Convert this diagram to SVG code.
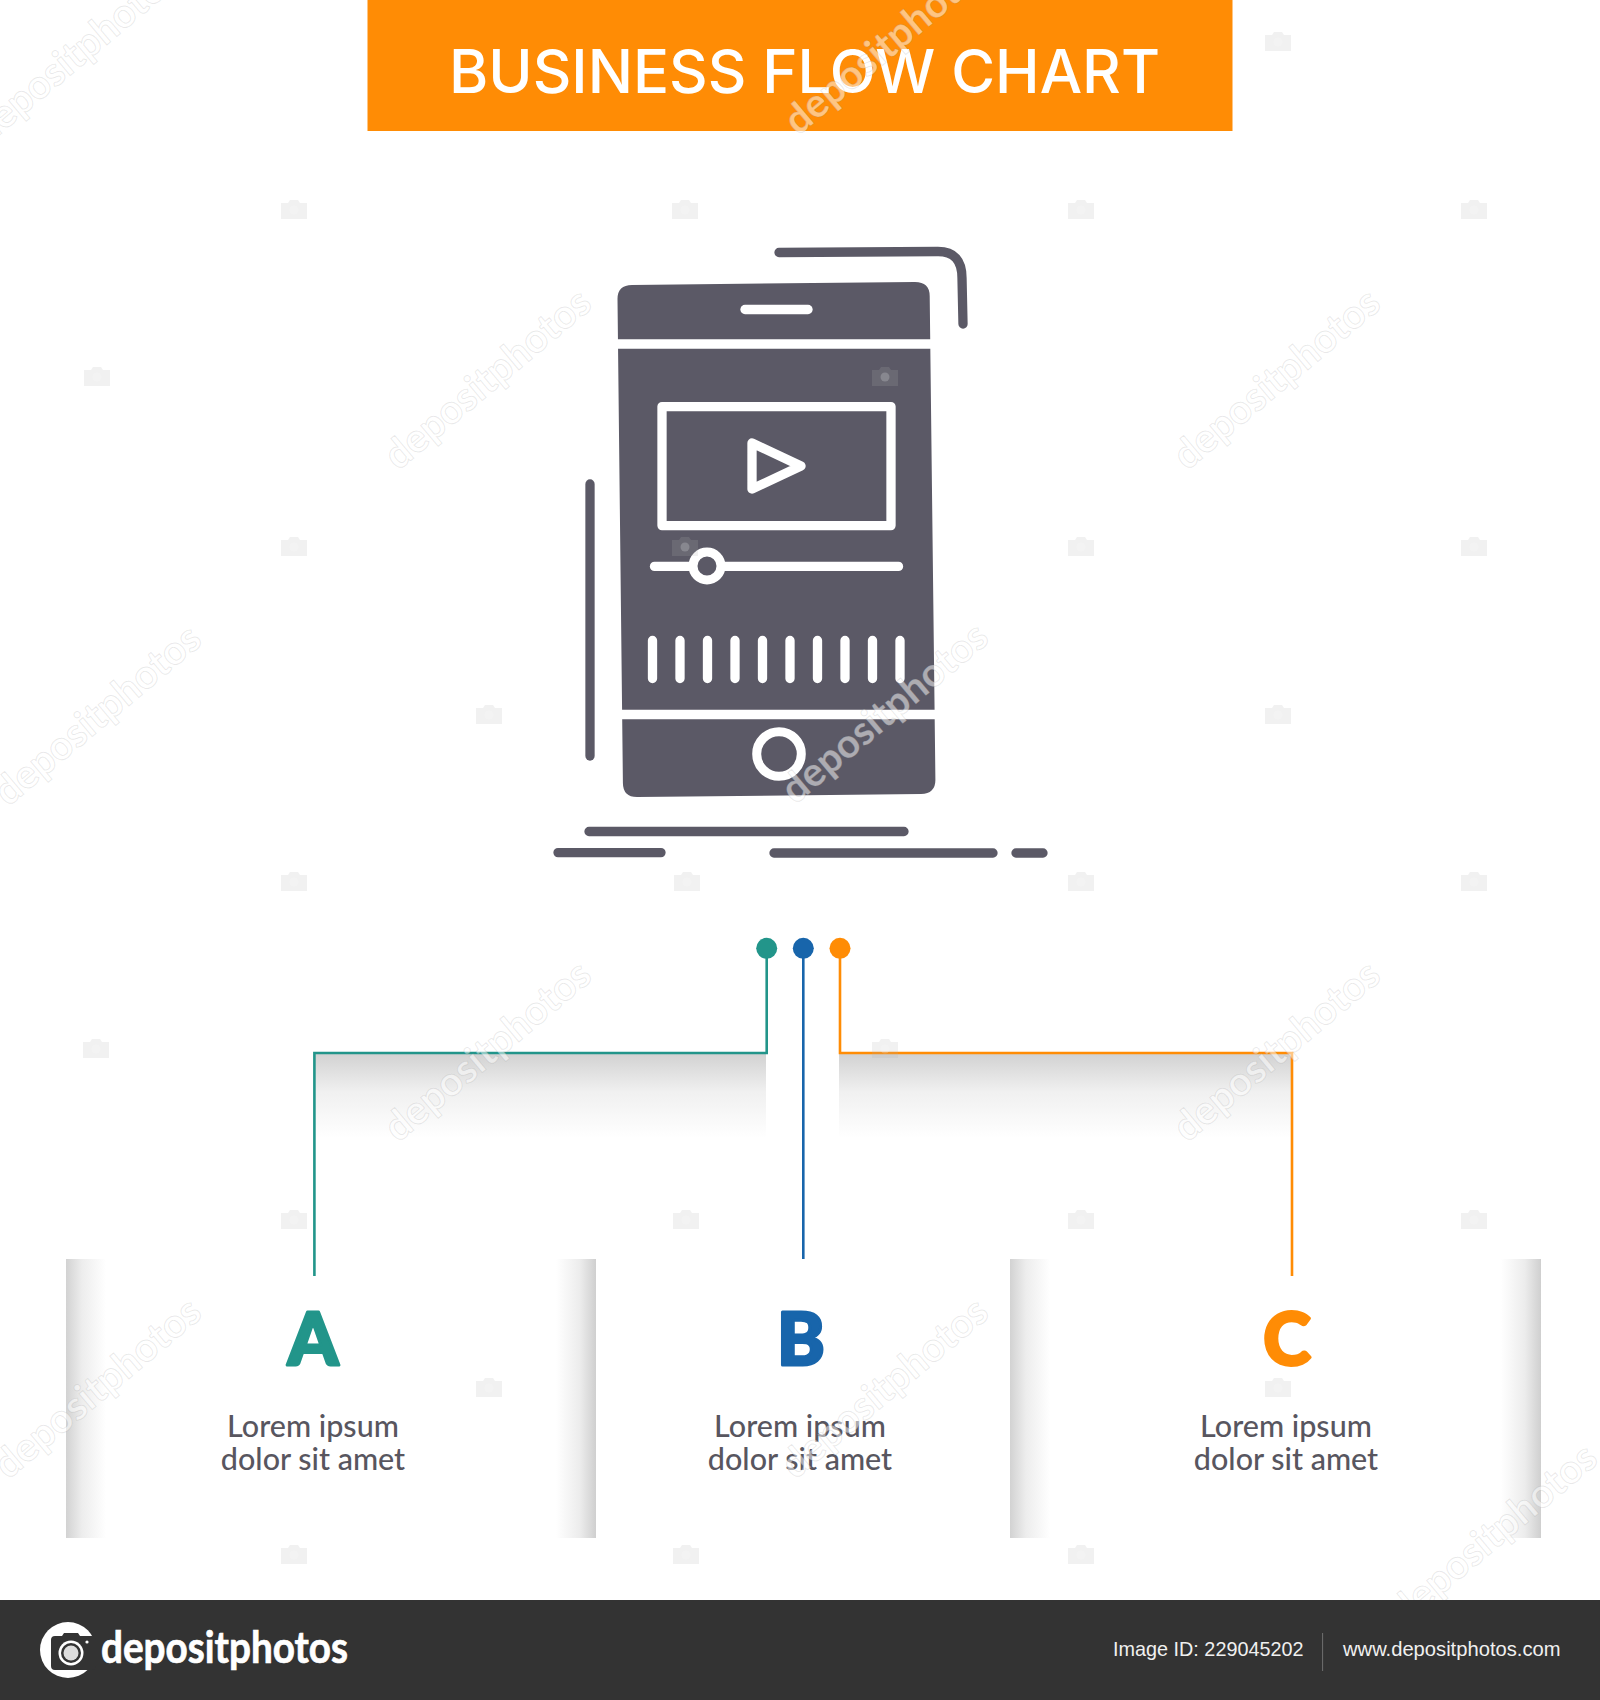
<svg xmlns="http://www.w3.org/2000/svg" width="1600" height="1700" viewBox="0 0 1600 1700">
<style>
text{font-family:"Lato","Liberation Sans",sans-serif}
.body{font-size:30.5px;font-weight:500;fill:#58565f;text-anchor:middle}
.letter{font-size:72px;font-weight:900;text-anchor:middle;stroke-width:3;stroke-linejoin:round}
.glyph{fill:none;stroke:#5b5966;stroke-width:9.3;stroke-linecap:round;stroke-linejoin:round}
.cut{fill:none;stroke:#fff;stroke-width:9.3;stroke-linecap:round;stroke-linejoin:round}
.conn{fill:none;stroke-width:2.6}
.foot{font-family:"Liberation Sans",Arial,sans-serif;font-size:21px;fill:#f0f0f0}
.wm{font-size:40px;font-weight:700;fill:#fff;fill-opacity:.5;stroke:#777;stroke-opacity:.16;stroke-width:1;text-anchor:middle}
</style>
<defs>
<linearGradient id="gl" x1="0" x2="1" y1="0" y2="0"><stop offset="0" stop-color="#d2d2d2"/><stop offset=".4" stop-color="#ededed"/><stop offset="1" stop-color="#fff"/></linearGradient>
<linearGradient id="gr" x1="1" x2="0" y1="0" y2="0"><stop offset="0" stop-color="#cfcfcf"/><stop offset=".4" stop-color="#ececec"/><stop offset="1" stop-color="#fff"/></linearGradient>
<linearGradient id="gd" x1="0" x2="0" y1="0" y2="1"><stop offset="0" stop-color="#d2d2d2"/><stop offset=".45" stop-color="#f0f0f0"/><stop offset="1" stop-color="#fff"/></linearGradient>
<g id="cam"><path d="M-13 -7h7l2-3h8l2 3h7v16h-26z" fill="#b0b0b0" fill-opacity=".18"/><circle r="4.5" fill="#fff" fill-opacity=".2"/></g>
</defs>
<rect width="1600" height="1700" fill="#fff"/>

<g id="shadows">
<rect x="315" y="1054" width="451" height="84" fill="url(#gd)"/>
<rect x="839" y="1054" width="453" height="84" fill="url(#gd)"/>
</g>

<g id="panel-a">
<rect x="66" y="1259" width="40" height="279" fill="url(#gl)"/>
<rect x="556" y="1259" width="40" height="279" fill="url(#gr)"/>
<text class="letter" x="313" y="1365" fill="#22958a" stroke="#22958a">A</text>
<text class="body" y="1437"><tspan x="313">Lorem ipsum</tspan><tspan x="313" dy="32.5">dolor sit amet</tspan></text>
</g>
<g id="panel-b">
<text class="letter" x="801" y="1365" fill="#1865ab" stroke="#1865ab">B</text>
<text class="body" y="1437"><tspan x="800">Lorem ipsum</tspan><tspan x="800" dy="32.5">dolor sit amet</tspan></text>
</g>
<g id="panel-c">
<rect x="1010" y="1259" width="40" height="279" fill="url(#gl)"/>
<rect x="1501" y="1259" width="40" height="279" fill="url(#gr)"/>
<text class="letter" x="1287" y="1365" fill="#ff8c05" stroke="#ff8c05">C</text>
<text class="body" y="1437"><tspan x="1286">Lorem ipsum</tspan><tspan x="1286" dy="32.5">dolor sit amet</tspan></text>
</g>

<g id="connectors">
<path class="conn" stroke="#22958a" d="M766.7 948V1053H314.4V1276"/>
<path class="conn" stroke="#1865ab" d="M803.3 948V1259"/>
<path class="conn" stroke="#ff8c05" d="M840 948V1053H1292V1276"/>
<circle cx="766.7" cy="948.3" r="10.5" fill="#22958a"/>
<circle cx="803.3" cy="948.3" r="10.5" fill="#1865ab"/>
<circle cx="840" cy="948.3" r="10.5" fill="#ff8c05"/>
</g>

<g id="phone-icon">
<path d="M632 285L915 282Q929.6 282 929.7 296L935.4 780Q935.4 793.7 921 794L637 797Q623 797 622.9 783L617.5 299Q617.5 285 632 285Z" fill="#5b5966"/>
<path class="cut" d="M612 344H936M618 714.5H942" style="stroke-linecap:butt"/>
<path class="cut" d="M745 309.5H808"/>
<rect class="cut" x="662" y="406.6" width="229" height="119"/>
<path class="cut" d="M752 443L801 466L752 489Z"/>
<path class="cut" d="M654.5 566.4H898.5"/>
<circle cx="707" cy="566" r="14" fill="#5b5966" stroke="#fff" stroke-width="9"/>
<path class="cut" d="M652.5 640.5V678.5M680 640.5V678.5M707.5 640.5V678.5M735 640.5V678.5M762.5 640.5V678.5M790 640.5V678.5M817.5 640.5V678.5M845 640.5V678.5M872.5 640.5V678.5M900 640.5V678.5"/>
<circle cx="779" cy="754" r="22.3" fill="none" stroke="#fff" stroke-width="9"/>
<path class="glyph" d="M779 252.5L938 251.5Q962 251.5 962 278L963 324"/>
<path class="glyph" d="M590 484V756"/>
<path class="glyph" d="M589 831.5H904M558 852.6H661M774 853H993M1016 853H1043"/>
</g>

<g id="title">
<rect x="367.5" y="0" width="865" height="131" fill="#ff8c05"/>
<text x="449" y="93" font-size="60" font-weight="500" fill="#fff" style="font-family:Inter,'Liberation Sans',sans-serif" textLength="711" lengthAdjust="spacingAndGlyphs">BUSINESS FLOW CHART</text>
</g>

<g id="watermarks">
<text class="wm" transform="translate(496 389) rotate(-40)">depositphotos</text>
<text class="wm" transform="translate(1285 389) rotate(-40)">depositphotos</text>
<text class="wm" transform="translate(893 723) rotate(-40)">depositphotos</text>
<text class="wm" transform="translate(106 725) rotate(-40)">depositphotos</text>
<text class="wm" transform="translate(496 1061) rotate(-40)">depositphotos</text>
<text class="wm" transform="translate(1285 1061) rotate(-40)">depositphotos</text>
<text class="wm" transform="translate(106 1398) rotate(-40)">depositphotos</text>
<text class="wm" transform="translate(893 1398) rotate(-40)">depositphotos</text>
<text class="wm" transform="translate(1502 1544) rotate(-40)">depositphotos</text>
<text class="wm" transform="translate(896 54) rotate(-40)">depositphotos</text>
<text class="wm" transform="translate(84 64) rotate(-40)">depositphotos</text>
<use href="#cam" x="294" y="210"/><use href="#cam" x="685" y="210"/><use href="#cam" x="1081" y="210"/><use href="#cam" x="1474" y="210"/>
<use href="#cam" x="1278" y="42"/><use href="#cam" x="97" y="377"/><use href="#cam" x="885" y="377"/>
<use href="#cam" x="294" y="547"/><use href="#cam" x="685" y="547"/><use href="#cam" x="1081" y="547"/><use href="#cam" x="1474" y="547"/>
<use href="#cam" x="489" y="715"/><use href="#cam" x="1278" y="715"/>
<use href="#cam" x="294" y="882"/><use href="#cam" x="687" y="882"/><use href="#cam" x="1081" y="882"/><use href="#cam" x="1474" y="882"/>
<use href="#cam" x="96" y="1049"/><use href="#cam" x="885" y="1049"/>
<use href="#cam" x="294" y="1220"/><use href="#cam" x="686" y="1220"/><use href="#cam" x="1081" y="1220"/><use href="#cam" x="1474" y="1220"/>
<use href="#cam" x="489" y="1388"/><use href="#cam" x="1278" y="1388"/>
<use href="#cam" x="294" y="1555"/><use href="#cam" x="686" y="1555"/><use href="#cam" x="1081" y="1555"/>
</g>

<g id="footer">
<rect x="0" y="1600" width="1600" height="100" fill="#333"/>
<circle cx="68" cy="1650" r="28" fill="#fff"/>
<path d="M51 1640q0-4 4-4h7l2-3h14l2 3h12q4 0 4 4v26q0 4-4 4H55q-4 0-4-4z" fill="#333"/>
<circle cx="71" cy="1653" r="12.5" fill="#fff"/><circle cx="71" cy="1653" r="10" fill="#333"/><circle cx="71" cy="1653" r="7.5" fill="#ddd"/>
<circle cx="87" cy="1642" r="1.6" fill="#fff"/>
<text x="101" y="1663" font-size="44" font-weight="700" fill="#fff" stroke="#fff" stroke-width=".7" textLength="247" lengthAdjust="spacingAndGlyphs">depositphotos</text>
<text class="foot" x="1113" y="1656" textLength="190.5" lengthAdjust="spacingAndGlyphs">Image ID: 229045202</text>
<path d="M1322.6 1633V1671" stroke="#707070" stroke-width="1"/>
<text class="foot" x="1343" y="1656" textLength="217.5" lengthAdjust="spacingAndGlyphs">www.depositphotos.com</text>
</g>
</svg>
